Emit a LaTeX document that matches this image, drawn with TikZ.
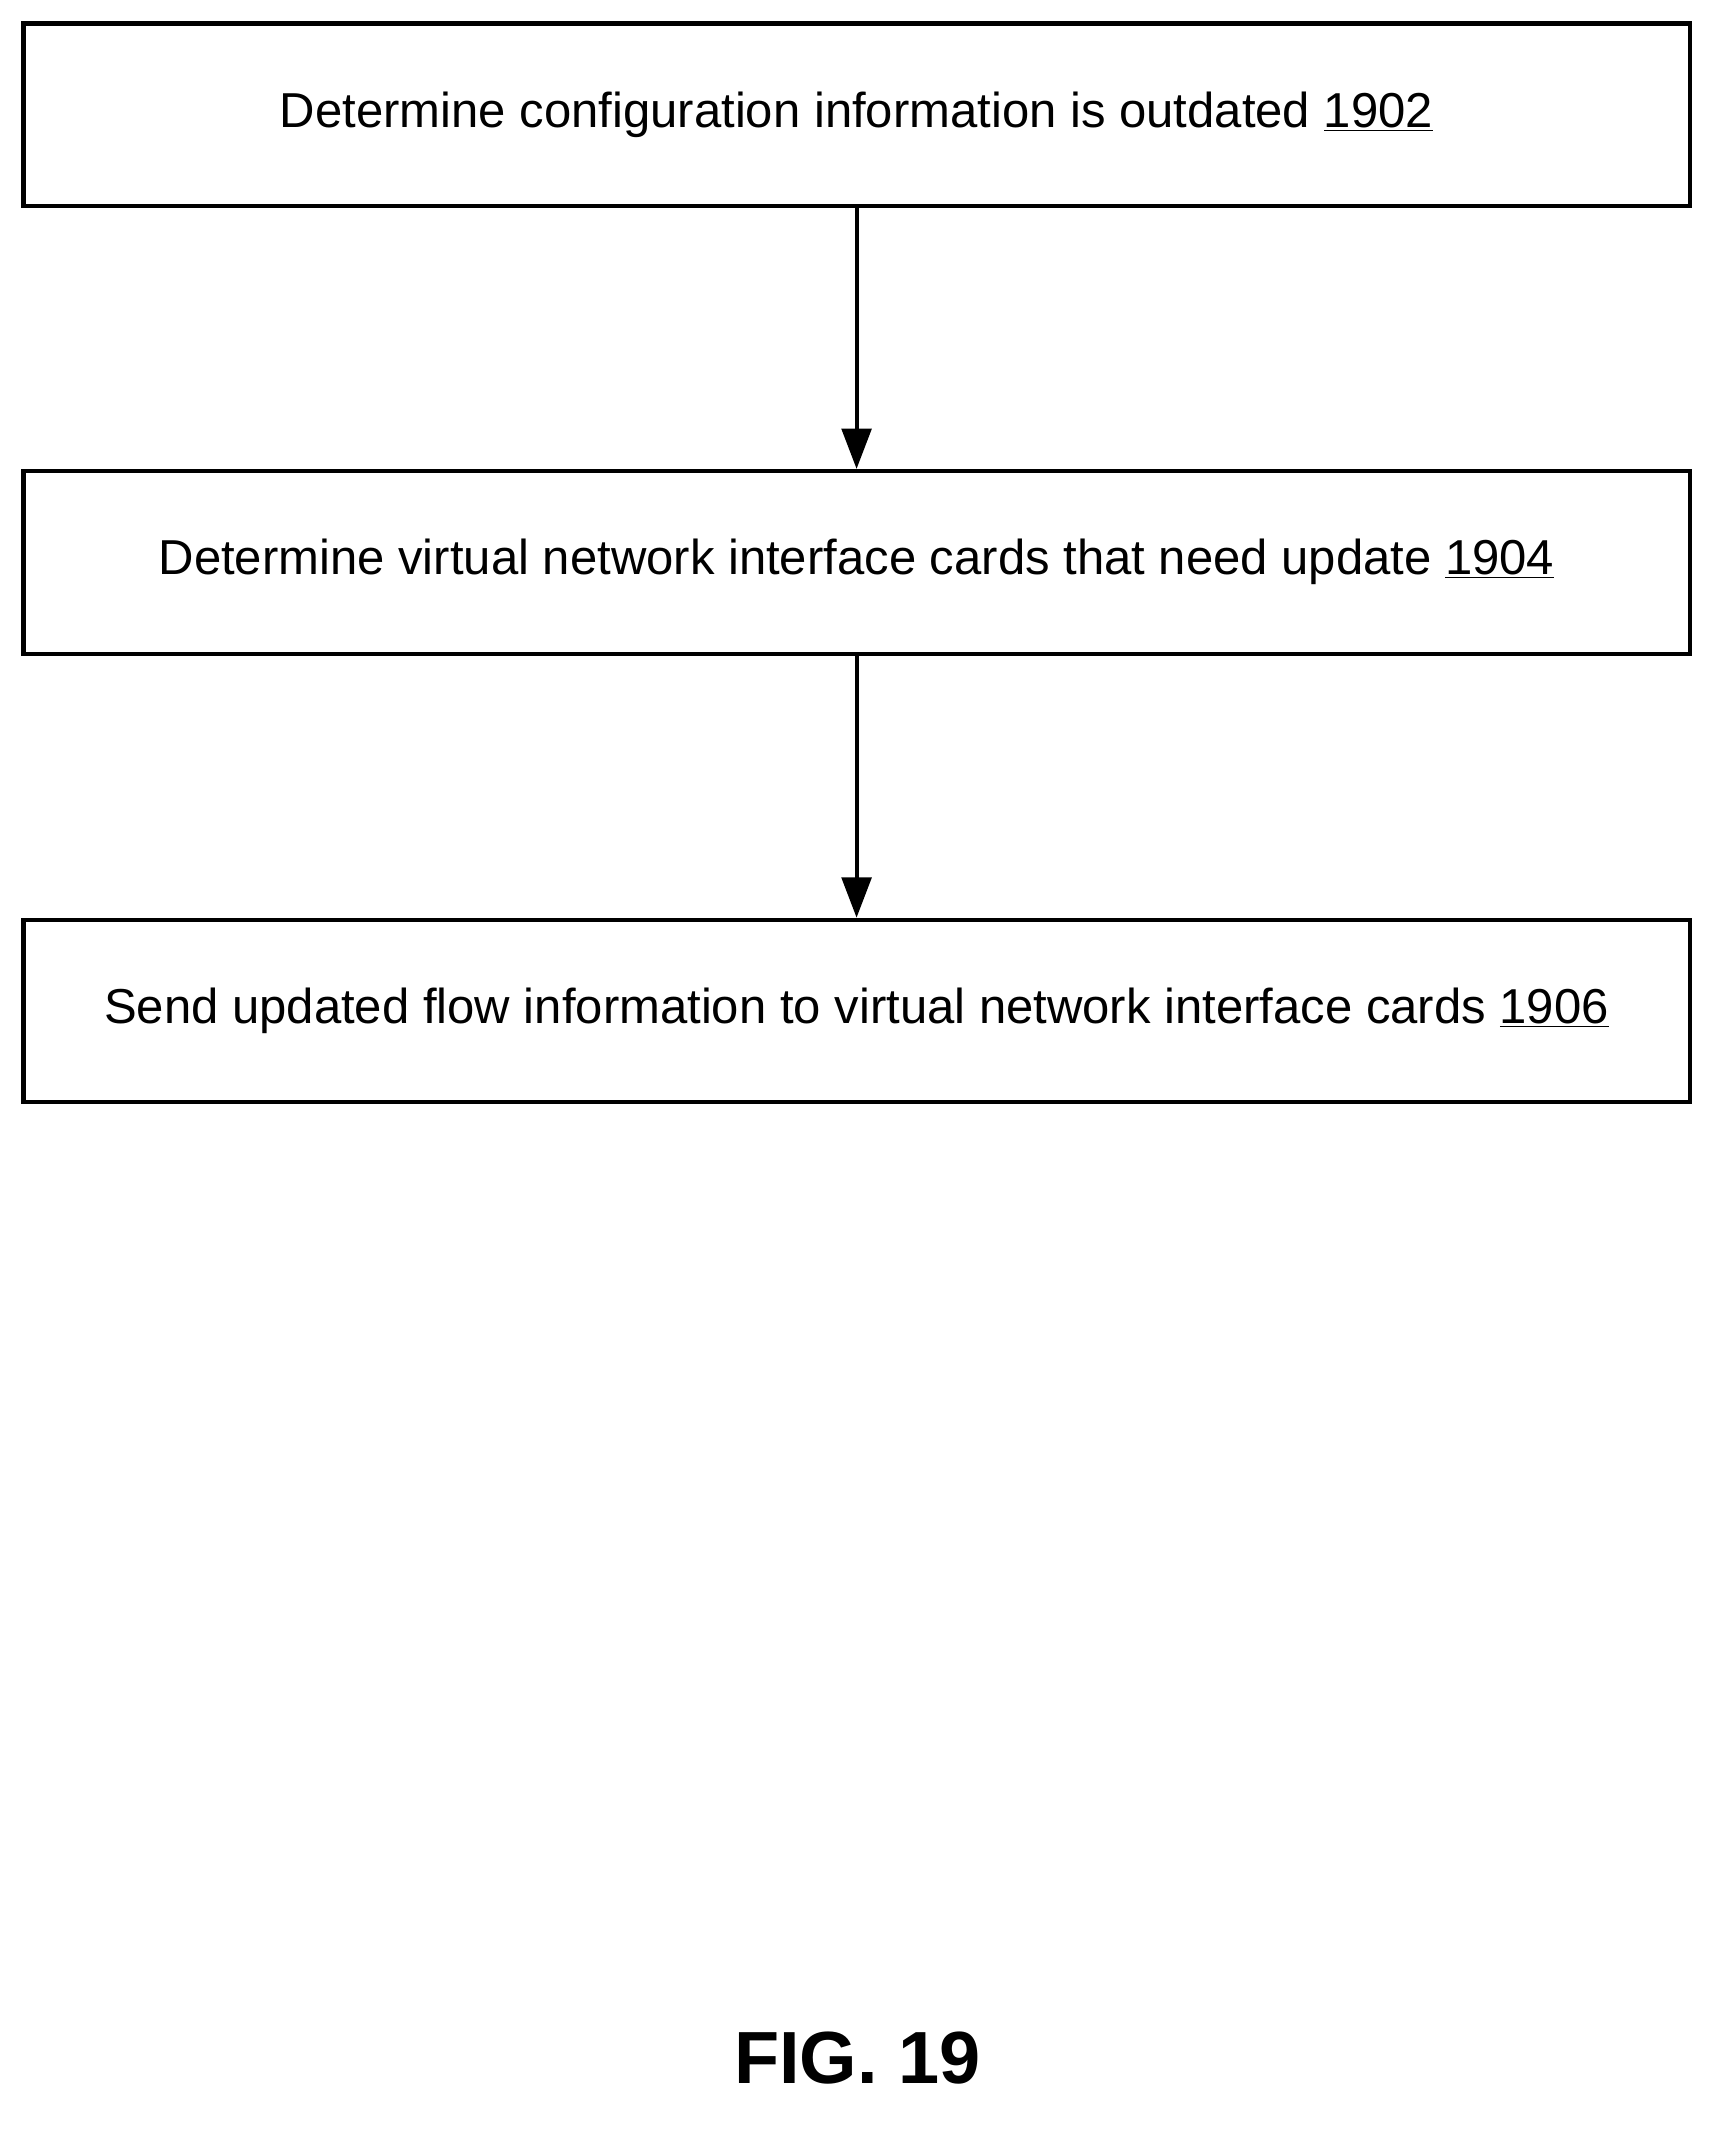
\documentclass[tikz,border=0pt]{standalone}
\usepackage{fontspec}
\setmainfont{Liberation Sans}
\usetikzlibrary{arrows.meta}
\begin{document}
\begin{tikzpicture}[x=1pt,y=-1pt,
  stepbox/.style={draw,line width=3pt,minimum width=1240pt,minimum height=136pt,inner sep=0pt,font=\fontsize{36.5}{42}\selectfont},
  conn/.style={line width=3pt,-{Triangle[length=30pt,width=22pt]}}]
\useasboundingbox (0,0) rectangle (1280,1586);
\node[stepbox] (a) at (637.5,85.5) {Determine configuration information is outdated \underline{1902}};
\node[stepbox] (b) at (637.5,418.5) {Determine virtual network interface cards that need update \underline{1904}};
\node[stepbox] (c) at (637.5,752.5) {Send updated flow information to virtual network interface cards \underline{1906}};
\draw[conn] (a) -- (b);
\draw[conn] (b) -- (c);
\node[font=\fontsize{55}{64}\selectfont\bfseries] (f) at (638,1532) {FIG. 19};
\end{tikzpicture}
\end{document}
